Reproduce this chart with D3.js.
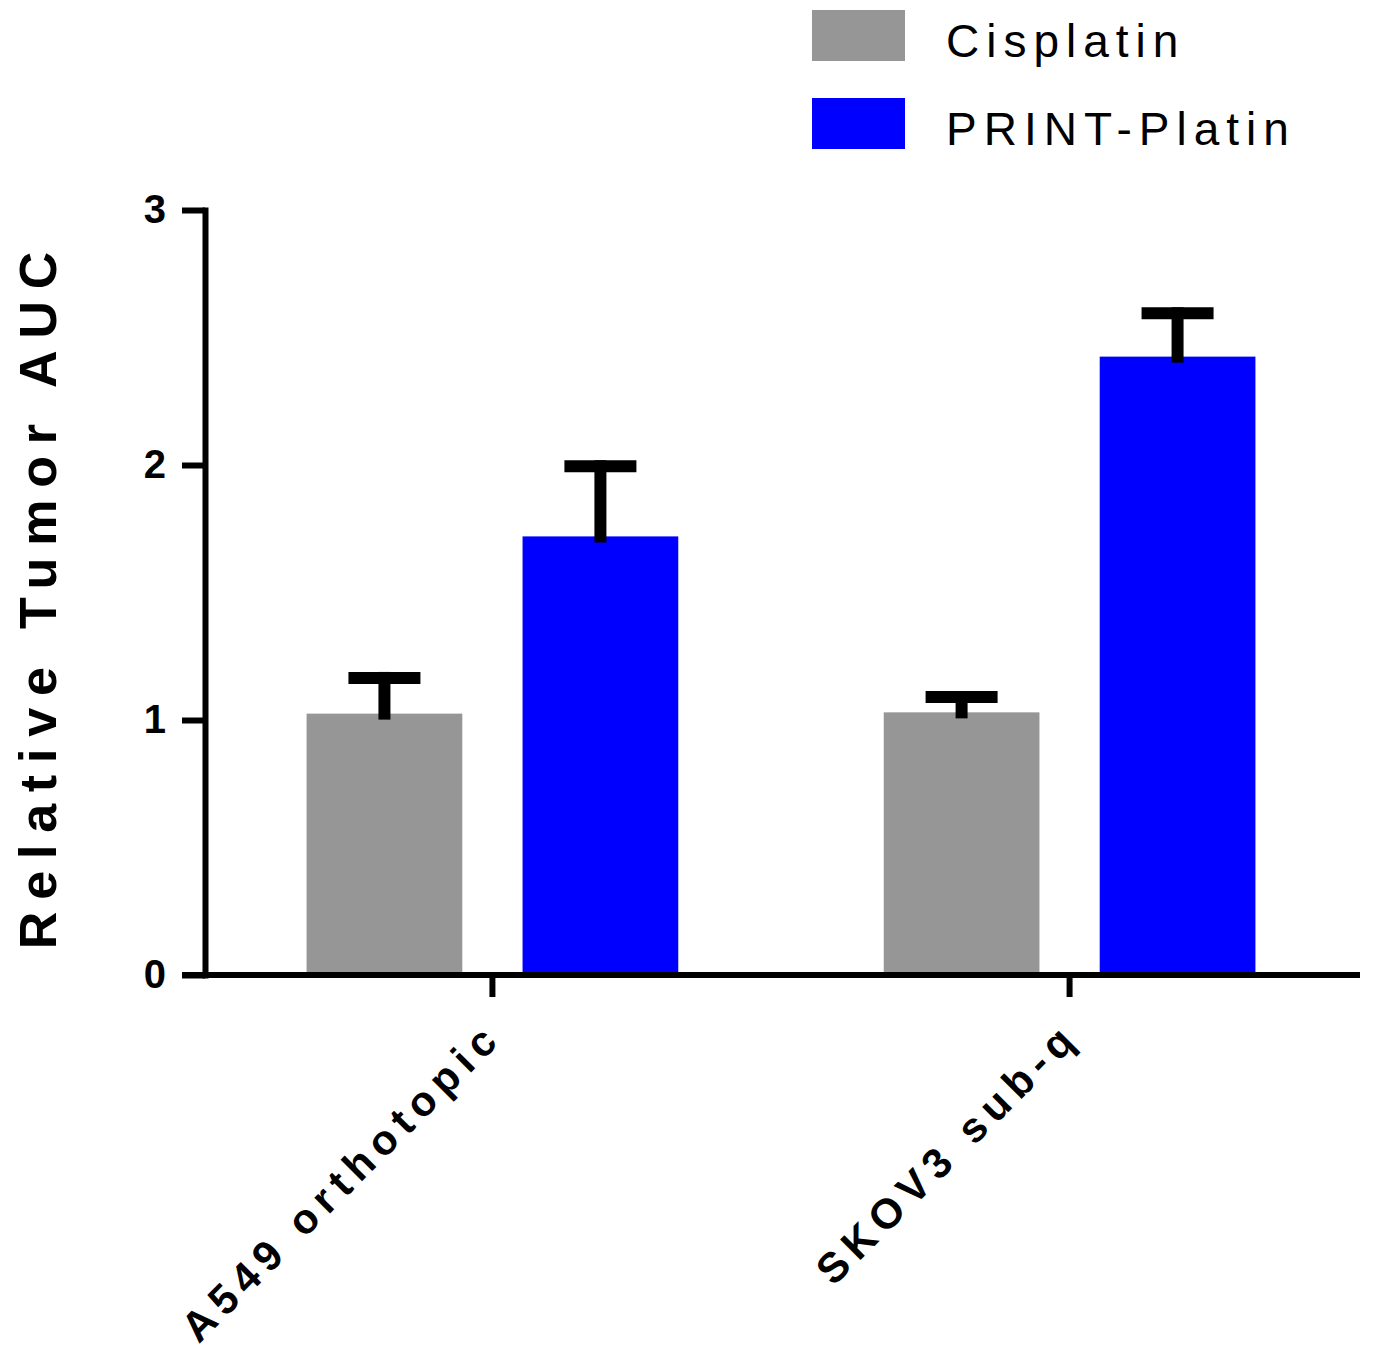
<!DOCTYPE html>
<html>
<head>
<meta charset="utf-8">
<script src="https://cdn.jsdelivr.net/npm/d3@7"></script>
<style>
  body { margin: 0; background: #fff; }
  svg { font-family: "Liberation Sans", Arial, Helvetica, sans-serif; }
</style>
</head>
<body>
<div id="chart-container"></div>
<script>
// data
const categories = ['A549 orthotopic', 'SKOV3 sub-q'];
const seriesNames = ['Cisplatin', 'PRINT-Platin'];
const cisplatin = [1.025, 1.03];
const cisplatinErr = [0.14, 0.06];
const printPlatin = [1.72, 2.425];
const printPlatinErr = [0.275, 0.17];
const yTicks = [0, 1, 2, 3];
const colors = ['#969696', '#0000ff'];

const width = 1373;
const height = 1353;
const plot = { left: 205, right: 1357, top: 210, bottom: 975 };

const svg = d3.select('#chart-container')
  .append('svg')
  .attr('width', width)
  .attr('height', height);

const y = d3.scaleLinear()
  .domain([0, 3])
  .range([plot.bottom, plot.top]);

const x0 = d3.scaleBand()
  .domain(categories)
  .range([plot.left, plot.right])
  .paddingInner(0.356)
  .paddingOuter(0.176);

const x1 = d3.scaleBand()
  .domain(seriesNames)
  .range([0, x0.bandwidth()])
  .paddingInner(0.279);

const color = d3.scaleOrdinal().domain(seriesNames).range(colors);

const rows = categories.map((c, i) => ({
  cat: c,
  values: [
    { name: seriesNames[0], v: cisplatin[i], e: cisplatinErr[i] },
    { name: seriesNames[1], v: printPlatin[i], e: printPlatinErr[i] }
  ]
}));

// bars
const groups = svg.selectAll('g.grp')
  .data(rows)
  .join('g')
  .attr('class', 'grp')
  .attr('transform', d => `translate(${x0(d.cat)},0)`);

groups.selectAll('rect')
  .data(d => d.values)
  .join('rect')
  .attr('x', d => x1(d.name))
  .attr('y', d => y(d.v))
  .attr('width', x1.bandwidth())
  .attr('height', d => y(0) - y(d.v))
  .attr('fill', d => color(d.name));

// error bars (upper only)
const capHalf = 30;
const errs = groups.selectAll('g.err')
  .data(d => d.values)
  .join('g')
  .attr('class', 'err')
  .attr('transform', d => `translate(${x1(d.name) + x1.bandwidth() / 2},0)`);

errs.append('line')
  .attr('x1', 0).attr('x2', 0)
  .attr('y1', d => y(d.v))
  .attr('y2', d => y(d.v + d.e))
  .attr('stroke', '#000')
  .attr('stroke-width', 12)
  .attr('stroke-linecap', 'square');

errs.append('line')
  .attr('x1', -capHalf).attr('x2', capHalf)
  .attr('y1', d => y(d.v + d.e))
  .attr('y2', d => y(d.v + d.e))
  .attr('stroke', '#000')
  .attr('stroke-width', 12)
  .attr('stroke-linecap', 'square');

// y axis
const yAxis = svg.append('g')
  .attr('transform', `translate(${plot.left},0)`)
  .call(d3.axisLeft(y).tickValues(yTicks).tickFormat(d3.format('d'))
    .tickSize(23).tickSizeOuter(0).tickPadding(16));

yAxis.select('.domain')
  .attr('stroke-width', 6)
  .attr('stroke-linecap', 'square');
yAxis.selectAll('.tick line').attr('stroke-width', 6);
yAxis.selectAll('.tick text')
  .attr('font-size', 40)
  .attr('font-weight', 'bold')
  .attr('fill', '#000')
  .attr('font-family', '"Liberation Sans", Arial, sans-serif');

// x axis
const xAxis = svg.append('g')
  .attr('transform', `translate(0,${y(0)})`)
  .call(d3.axisBottom(x0).tickSize(22).tickSizeOuter(0).tickFormat(''));

xAxis.select('.domain')
  .attr('d', `M${plot.left - 23},0H${plot.right + 3}`)
  .attr('stroke-width', 6);
xAxis.selectAll('.tick line').attr('stroke-width', 6);

// rotated category labels
svg.selectAll('text.xlab')
  .data(categories)
  .join('text')
  .attr('class', 'xlab')
  .attr('transform', d => `translate(${x0(d) + x0.bandwidth() / 2 + 12},${y(0) + 64}) rotate(-45)`)
  .attr('text-anchor', 'end')
  .attr('font-size', 42)
  .attr('font-weight', 'bold')
  .attr('letter-spacing', '7.5px')
  .text(d => d);

// y title
svg.append('text')
  .attr('transform', `translate(56,${(plot.top + plot.bottom) / 2 + 2}) rotate(-90)`)
  .attr('text-anchor', 'middle')
  .attr('font-size', 52)
  .attr('font-weight', 'bold')
  .attr('letter-spacing', '11.8px')
  .text('Relative Tumor AUC');

// legend
const legend = svg.selectAll('g.leg')
  .data(seriesNames)
  .join('g')
  .attr('class', 'leg')
  .attr('transform', (d, i) => `translate(812,${10 + i * 88})`);

legend.append('rect')
  .attr('width', 93)
  .attr('height', 51)
  .attr('fill', d => color(d));

legend.append('text')
  .attr('x', 134)
  .attr('y', 47)
  .attr('font-size', 46)
  .attr('letter-spacing', '7px')
  .attr('fill', '#000')
  .text(d => d);
</script>
</body>
</html>
